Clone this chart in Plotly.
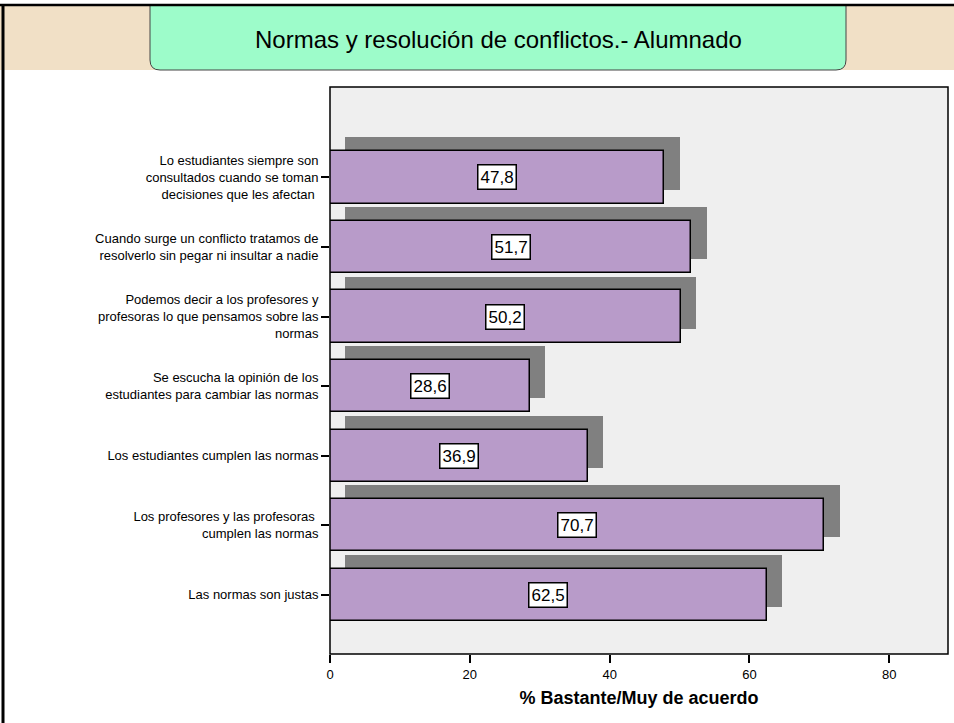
import plotly.graph_objects as go

# datos
categorias = [
    "Lo estudiantes siempre son<br>consultados cuando se toman<br>decisiones que les afectan ",
    "Cuando surge un conflicto tratamos de<br>resolverlo sin pegar ni insultar a nadie",
    "Podemos decir a los profesores y<br>profesoras lo que pensamos sobre las<br>normas",
    "Se escucha la opinión de los<br>estudiantes para cambiar las normas",
    "Los estudiantes cumplen las normas",
    "Los profesores y las profesoras <br>cumplen las normas",
    "Las normas son justas",
]
porcentajes = [47.8, 51.7, 50.2, 28.6, 36.9, 70.7, 62.5]
ticks_x = [0, 20, 40, 60, 80]

W, H = 954, 723
L, R, T, B = 330, 6, 87, 69
PW, PH = W - L - R, H - T - B
FUENTE = 'Arial, Liberation Sans, sans-serif'


def px(x):
    return (x - L) / PW


def py(y):
    return (H - B - y) / PH


fig = go.Figure()

# sombra de las barras
fig.add_trace(go.Bar(
    y=categorias, x=porcentajes, base=2.2, orientation='h',
    width=0.75, offset=-0.575,
    marker=dict(color='#808080', line=dict(width=0)),
    hoverinfo='skip', showlegend=False
))

# barras principales
fig.add_trace(go.Bar(
    y=categorias, x=porcentajes, orientation='h',
    width=0.75, offset=-0.375,
    marker=dict(color='#b89bc9', line=dict(color='black', width=1.5)),
    showlegend=False
))

# etiquetas con recuadro blanco
for cat, val in zip(categorias, porcentajes):
    fig.add_annotation(
        x=val / 2, y=cat, xref='x', yref='y',
        text=f"{val:.1f}".replace('.', ','), showarrow=False,
        font=dict(family=FUENTE, size=17, color='black'),
        bgcolor='white', bordercolor='black', borderwidth=1.5, borderpad=2
    )

# fondo de la diapositiva
shapes = [
    dict(type='rect', xref='paper', yref='paper', layer='below',
         x0=px(0), x1=px(W), y0=py(70), y1=py(5),
         fillcolor='#f1e0c6', line=dict(width=0)),
]
r = 10
x0, x1, y0, y1 = 150, 846, 5, 70
path = (f"M {px(x0)} {py(y0)} L {px(x1)} {py(y0)} L {px(x1)} {py(y1 - r)} "
        f"Q {px(x1)} {py(y1)} {px(x1 - r)} {py(y1)} L {px(x0 + r)} {py(y1)} "
        f"Q {px(x0)} {py(y1)} {px(x0)} {py(y1 - r)} Z")
shapes.append(dict(type='path', path=path, xref='paper', yref='paper', layer='below',
                   fillcolor='#9dfcca', line=dict(color='#444444', width=1)))
# marco: linea superior e izquierda
shapes.append(dict(type='line', xref='paper', yref='paper', layer='above',
                   x0=px(0), x1=px(W), y0=py(5), y1=py(5),
                   line=dict(color='black', width=2.5)))
shapes.append(dict(type='line', xref='paper', yref='paper', layer='above',
                   x0=px(3), x1=px(3), y0=py(5), y1=py(H),
                   line=dict(color='black', width=3)))
shapes.append(dict(type='rect', xref='paper', yref='paper', layer='above',
                   x0=0, x1=1, y0=0, y1=1,
                   line=dict(color='black', width=1.5)))

fig.add_annotation(
    x=px(498), y=py(40), xref='paper', yref='paper', showarrow=False,
    xanchor='center', yanchor='middle',
    text="Normas y resolución de conflictos.- Alumnado",
    font=dict(family=FUENTE, size=24, color='black')
)

fig.update_layout(
    width=W, height=H,
    margin=dict(l=L, r=R, t=T, b=B, pad=0),
    paper_bgcolor='white', plot_bgcolor='#efefef',
    barmode='overlay', bargap=0,
    font=dict(family=FUENTE, color='black'),
    shapes=shapes,
    xaxis=dict(
        range=[0, 88.4], tickvals=ticks_x, showgrid=False, zeroline=False,
        ticks='outside', ticklen=8, tickwidth=1.5, tickcolor='black',
        tickfont=dict(size=13), showline=False,
        title=dict(text='<b>% Bastante/Muy de acuerdo</b>', font=dict(size=18), standoff=10)
    ),
    yaxis=dict(
        type='category', categoryorder='array', categoryarray=categorias,
        range=[6.85, -1.30], showgrid=False, zeroline=False,
        ticks='outside', ticklen=8, tickwidth=1.5, tickcolor='black',
        tickfont=dict(size=13), showline=False
    ),
)

fig.write_html("out.html", config={'displayModeBar': False},
               post_script="document.body.style.margin='0';")
